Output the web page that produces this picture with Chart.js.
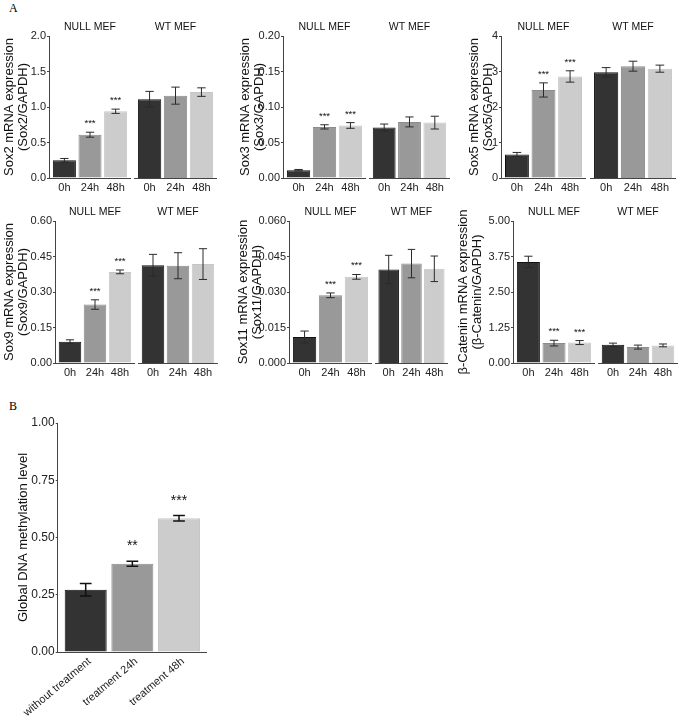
<!DOCTYPE html>
<html>
<head>
<meta charset="utf-8">
<script src="https://cdn.jsdelivr.net/npm/chart.js@4.4.1/dist/chart.umd.min.js"></script>
<style>
  html, body { margin: 0; padding: 0; background: #fff; }
  #fig { position: relative; width: 680px; height: 716px; overflow: hidden; }
  #fig canvas { position: absolute; }
  .lbl { position: absolute; font-family: "Liberation Serif", "Times New Roman", serif; font-size: 12px; color: #000; }
</style>
</head>
<body>
<div id="fig">
  <div class="lbl" style="left:9px;top:1px">A</div>
  <div class="lbl" style="left:9px;top:399px">B</div>
</div>
<script>
  // categories
  var timeLabels = ['0h', '24h', '48h'];
  var facetNames = ['NULL MEF', 'WT MEF'];
  var nullStars = ['', '***', '***'];
  var wtStars = ['', '', ''];

  // Sox2
  var sox2Null = [0.25, 0.61, 0.94];
  var sox2NullErr = [0.025, 0.035, 0.03];
  var sox2Wt = [1.11, 1.16, 1.21];
  var sox2WtErr = [0.11, 0.12, 0.06];
  var sox2Ticks = ['0.0', '0.5', '1.0', '1.5', '2.0'];

  // Sox3
  var sox3Null = [0.011, 0.072, 0.074];
  var sox3NullErr = [0.001, 0.003, 0.004];
  var sox3Wt = [0.071, 0.079, 0.078];
  var sox3WtErr = [0.005, 0.007, 0.009];
  var sox3Ticks = ['0.00', '0.05', '0.10', '0.15', '0.20'];

  // Sox5
  var sox5Null = [0.66, 2.48, 2.86];
  var sox5NullErr = [0.06, 0.2, 0.16];
  var sox5Wt = [2.98, 3.15, 3.08];
  var sox5WtErr = [0.13, 0.14, 0.1];
  var sox5Ticks = ['0', '1', '2', '3', '4'];

  // Sox9
  var sox9Null = [0.09, 0.247, 0.385];
  var sox9NullErr = [0.008, 0.02, 0.008];
  var sox9Wt = [0.413, 0.411, 0.418];
  var sox9WtErr = [0.046, 0.055, 0.065];
  var sox9Ticks = ['0.00', '0.15', '0.30', '0.45', '0.60'];

  // Sox11
  var sox11Null = [0.011, 0.0286, 0.0364];
  var sox11NullErr = [0.0025, 0.001, 0.001];
  var sox11Wt = [0.0395, 0.042, 0.0398];
  var sox11WtErr = [0.006, 0.006, 0.0054];
  var sox11Ticks = ['0.000', '0.015', '0.030', '0.045', '0.060'];

  // beta-catenin
  var ctnnbNull = [3.56, 0.7, 0.72];
  var ctnnbNullErr = [0.2, 0.1, 0.07];
  var ctnnbWt = [0.64, 0.56, 0.62];
  var ctnnbWtErr = [0.06, 0.07, 0.05];
  var ctnnbTicks = ['0.00', '1.25', '2.50', '3.75', '5.00'];

  // panel B
  var methLabels = ['without treatment', 'treatment 24h', 'treatment 48h'];
  var methValues = [0.272, 0.385, 0.584];
  var methErr = [0.027, 0.011, 0.012];
  var methStars = ['', '**', '***'];
  var methTicks = ['0.00', '0.25', '0.50', '0.75', '1.00'];

  var barFill = ['#333333', '#999999', '#cccccc'];
  var barEdge = ['#111111', '#8c8c8c', '#c6c6c6'];
  var axisColor = '#444444';

  Chart.defaults.font.family = '"Liberation Sans", Arial, sans-serif';
  Chart.defaults.color = '#222';

  var fig = document.getElementById('fig');

  // draws error bars, significance stars and the facet strip label
  var errorBarPlugin = {
    id: 'errorBars',
    afterDatasetsDraw: function(chart) {
      var ds = chart.data.datasets[0];
      var meta = chart.getDatasetMeta(0);
      var y = chart.scales.y;
      var ctx = chart.ctx;
      ctx.save();
      ctx.strokeStyle = ds.errColor;
      ctx.fillStyle = '#111';
      ctx.lineWidth = ds.errWidth;
      ctx.font = ds.starFont;
      ctx.textAlign = 'center';
      ctx.textBaseline = 'alphabetic';
      meta.data.forEach(function(bar, i) {
        var v = ds.data[i].y, e = ds.errors[i];
        var top = y.getPixelForValue(v + e);
        var bot = y.getPixelForValue(v - e);
        var half = bar.width * ds.capFrac / 2;
        ctx.beginPath();
        ctx.moveTo(bar.x, top); ctx.lineTo(bar.x, bot);
        ctx.moveTo(bar.x - half, top); ctx.lineTo(bar.x + half, top);
        ctx.moveTo(bar.x - half, bot); ctx.lineTo(bar.x + half, bot);
        ctx.stroke();
        if (ds.stars[i]) {
          ctx.fillText(ds.stars[i], bar.x, top - ds.starGap);
        }
      });
      if (ds.facet) {
        var a = chart.chartArea;
        ctx.font = '10.5px "Liberation Sans", Arial, sans-serif';
        ctx.textBaseline = 'middle';
        ctx.fillText(ds.facet, (a.left + a.right) / 2, a.top - 9);
      }
      ctx.restore();
    }
  };

  function addCanvas(left, top, w, h) {
    var c = document.createElement('canvas');
    c.width = w; c.height = h;
    c.style.left = left + 'px'; c.style.top = top + 'px';
    c.style.width = w + 'px'; c.style.height = h + 'px';
    fig.appendChild(c);
    return c;
  }

  function barChart(g) {
    var padTop = 22;
    var canvas = addCanvas(g.x0, g.top - padTop, g.right - g.x0, padTop + (g.bottom - g.top) + g.xh);
    var ticks = g.ticks;
    return new Chart(canvas, {
      type: 'bar',
      data: {
        datasets: [{
          data: g.values.map(function(v, i) { return {x: i + 1, y: v}; }),
          backgroundColor: barFill,
          borderColor: barEdge,
          borderWidth: 1,
          categoryPercentage: 0.9,
          barPercentage: 1,
          errors: g.errors,
          stars: g.stars,
          facet: g.facet,
          capFrac: g.capFrac,
          errWidth: g.errWidth,
          errColor: g.errColor,
          starFont: g.starFont,
          starGap: g.starGap
        }]
      },
      options: {
        responsive: false,
        animation: false,
        layout: {padding: {top: padTop, left: 0, right: 0, bottom: 0}},
        plugins: {legend: {display: false}, tooltip: {enabled: false}},
        scales: {
          x: {
            type: 'linear', min: 0.4, max: 3.6, offset: false,
            grid: {display: false, drawTicks: false},
            border: {display: true, color: axisColor, width: 1},
            afterBuildTicks: function(s) { s.ticks = [1, 2, 3].map(function(v) { return {value: v}; }); },
            afterFit: function(s) { s.height = g.xh; },
            ticks: {
              autoSkip: false,
              minRotation: g.rot, maxRotation: g.rot,
              padding: 3,
              labelOffset: g.labelOffset,
              color: '#222',
              font: {size: g.xFont},
              callback: function(v, i) { return g.cats[i]; }
            }
          },
          y: {
            display: g.showY,
            min: parseFloat(ticks[0]), max: parseFloat(ticks[ticks.length - 1]),
            grid: {drawOnChartArea: false, drawTicks: true, tickLength: 2, color: axisColor},
            border: {display: true, color: axisColor, width: 1},
            afterBuildTicks: function(s) { s.ticks = ticks.map(function(t) { return {value: parseFloat(t)}; }); },
            afterFit: function(s) { s.width = g.axis - g.x0; },
            ticks: {
              padding: 1,
              color: '#222',
              font: {size: g.yFont},
              callback: function(v, i) { return ticks[i]; }
            },
            title: {
              display: true,
              text: g.title,
              color: '#111',
              font: {size: g.titleFont, lineHeight: 1.1},
              padding: {top: 2, bottom: 0}
            }
          }
        }
      },
      plugins: [errorBarPlugin]
    });
  }

  // six faceted panels of A: [canvas left, y-axis x, NULL right, WT left, WT right, plot top, plot bottom]
  var panelsA = [
    {nul: sox2Null, nulErr: sox2NullErr, wt: sox2Wt, wtErr: sox2WtErr, ticks: sox2Ticks,
     title: ['Sox2 mRNA expression', '(Sox2/GAPDH)'], box: [0, 49, 131, 134, 217, 36, 178]},
    {nul: sox3Null, nulErr: sox3NullErr, wt: sox3Wt, wtErr: sox3WtErr, ticks: sox3Ticks,
     title: ['Sox3 mRNA expression', '(Sox3/GAPDH)'], box: [236, 283, 366, 369, 450, 36, 178]},
    {nul: sox5Null, nulErr: sox5NullErr, wt: sox5Wt, wtErr: sox5WtErr, ticks: sox5Ticks,
     title: ['Sox5 mRNA expression', '(Sox5/GAPDH)'], box: [465, 501, 586, 590, 676, 36, 178]},
    {nul: sox9Null, nulErr: sox9NullErr, wt: sox9Wt, wtErr: sox9WtErr, ticks: sox9Ticks,
     title: ['Sox9 mRNA expression', '(Sox9/GAPDH)'], box: [0, 55, 135, 138, 218, 221, 363]},
    {nul: sox11Null, nulErr: sox11NullErr, wt: sox11Wt, wtErr: sox11WtErr, ticks: sox11Ticks,
     title: ['Sox11 mRNA expression', '(Sox11/GAPDH)'], box: [234, 289, 372, 375, 448, 221, 363]},
    {nul: ctnnbNull, nulErr: ctnnbNullErr, wt: ctnnbWt, wtErr: ctnnbWtErr, ticks: ctnnbTicks,
     title: ['β-Catenin mRNA expression', '(β-Catenin/GAPDH)'], box: [454, 513, 595, 598, 678, 221, 363]}
  ];

  panelsA.forEach(function(p) {
    var b = p.box;
    var common = {
      ticks: p.ticks, title: p.title, cats: timeLabels, top: b[5], bottom: b[6], xh: 22,
      rot: 0, labelOffset: 0, xFont: 11, yFont: 11, titleFont: 13,
      capFrac: 0.36, errWidth: 1, errColor: '#2a2a2a', starFont: '9.5px "Liberation Sans", Arial', starGap: 6
    };
    barChart(Object.assign({}, common, {
      values: p.nul, errors: p.nulErr, stars: nullStars, facet: facetNames[0],
      x0: b[0], axis: b[1], right: b[2], showY: true
    }));
    barChart(Object.assign({}, common, {
      values: p.wt, errors: p.wtErr, stars: wtStars, facet: facetNames[1],
      x0: b[3], axis: b[3], right: b[4], showY: false
    }));
  });

  // panel B
  barChart({
    values: methValues, errors: methErr, stars: methStars, facet: '',
    ticks: methTicks, title: 'Global DNA methylation level', cats: methLabels,
    x0: 10, axis: 53, right: 207, top: 423, bottom: 652, xh: 64, showY: true,
    rot: 40, labelOffset: 4, xFont: 11, yFont: 12, titleFont: 13,
    capFrac: 0.28, errWidth: 1.5, errColor: '#111', starFont: '14px "Liberation Sans", Arial', starGap: 11
  });
</script>
</body>
</html>
